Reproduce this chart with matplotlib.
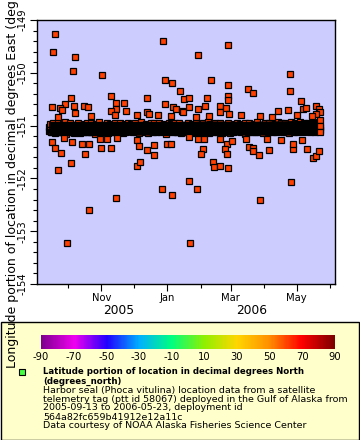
import numpy as np
import pandas as pd
import matplotlib
matplotlib.use("Agg")
import matplotlib.pyplot as plt
import matplotlib.dates as mdates
from matplotlib.colors import LinearSegmentedColormap
from matplotlib.patches import Rectangle

plt.rcParams["axes.unicode_minus"] = False

# Данные: выбросы (день от начала развертывания, долгота)
start = pd.Timestamp("2005-09-13")
end = pd.Timestamp("2006-05-23")

out_day = [
    5.7, 3.8, 24.5, 22.4, 49.5, 105.8, 166.4, 138.3, 107.7, 114.2, 150.4, 166.1, 223.7, 223.7,
    184.7, 189.6, 121.6, 125.3, 130.2, 146.7, 166.1, 166.1, 91.0, 57.6, 20.5, 234.1, 107.7, 69.7,
    62.2, 2.9, 14.9, 10.3, 12.2, 32.6, 36.3, 23.3, 91.0, 130.0, 158.7, 158.7, 164.3, 178.2, 212.8,
    221.8, 235.7, 238.5, 247.8, 250.6, 115.1, 117.9, 123.5,
    62.2, 71.8, 57.9, 124.7, 9.0, 24.2, 39.1, 61.3, 81.7, 92.9, 101.5, 113.8, 138.6, 144.8, 167.1,
    196.4, 207.2, 252.0, 248.1, 244.1, 230.2, 136.5, 148.8,
    2.9, 5.9, 21.4, 31.0, 37.2, 48.3, 57.6, 47.7, 54.2, 81.7, 84.1, 91.3, 97.5, 109.8, 113.5, 14.0,
    63.5, 130.2, 138.9, 143.9, 143.5, 159.0, 165.5, 163.6, 170.4, 183.4, 185.9, 189.6, 204.5, 202.3,
    215.6, 226.4, 226.4, 234.8, 239.4,
    8.4, 20.5, 11.2, 33.5, 16.8, 37.2, 62.2, 81.7, 84.5, 97.5, 104.9, 114.2, 130.0, 130.9, 137.4,
    141.1, 152.2, 153.2, 158.7, 166.1, 165.2, 189.3, 194.9, 195.8, 224.6, 245.0, 247.8, 250.6,
    252.0, 252.0, 252.0,
]
out_lon = [
    -149.26, -149.60, -149.71, -149.96, -150.05, -149.39, -149.47, -149.66, -150.13, -150.19, -150.13, -150.24, -150.02, -150.34,
    -150.30, -150.38, -150.34, -150.49, -150.47, -150.47, -150.43, -150.51, -150.47, -150.43, -150.47, -150.53, -150.59, -150.57,
    -150.57, -150.64, -150.59, -150.66, -150.70, -150.62, -150.64, -150.62, -150.74, -150.64, -150.62, -150.74, -150.66, -150.79, -150.72,
    -150.70, -150.69, -150.66, -150.62, -150.68, -150.64, -150.68, -150.72,
    -150.69, -150.72, -150.73, -150.74, -150.83, -150.76, -150.82, -150.79, -150.79, -150.78, -150.80, -150.81, -150.69, -150.62, -150.78,
    -150.82, -150.83, -150.75, -150.78, -150.81, -150.80, -150.83, -150.82,
    -151.32, -151.42, -151.32, -151.35, -151.34, -151.42, -151.42, -151.25, -151.25, -151.28, -151.39, -151.46, -151.36, -151.35, -151.34, -151.24,
    -151.24, -151.21, -151.26, -151.26, -151.44, -151.26, -151.34, -151.44, -151.30, -151.26, -151.41, -151.43, -151.46, -151.26,
    -151.27, -151.44, -151.34, -151.27, -151.45,
    -151.85, -151.70, -151.51, -151.53, -153.22, -152.59, -152.38, -151.76, -151.68, -151.55, -152.21, -152.31, -152.04, -153.22, -152.21,
    -151.53, -151.68, -151.78, -151.76, -151.80, -151.53, -151.49, -151.55, -152.40, -152.06, -151.61, -151.57, -151.49,
    -150.89, -151.01, -151.12,
]

# Плотная полоса основных наблюдений (долгота)
band_lon = [
    -151.02, -151.11, -150.97, -151.08, -151.13, -151.00, -151.06, -150.96, -151.10, -151.04, -151.14, -150.99, -151.07, -151.12, -151.01, -150.95, -151.09, -151.05, -151.13, -150.98, -151.03, -151.11,
    -151.06, -150.97, -151.12, -151.02, -151.09, -150.94, -151.15, -151.04, -150.99, -151.10, -151.07, -151.01, -151.13, -150.96, -151.08, -151.03, -151.11, -150.98, -151.05, -151.14, -151.00, -151.09,
    -150.98, -151.12, -151.03, -151.07, -150.96, -151.10, -151.01, -151.14, -151.05, -150.99, -151.09, -151.02, -151.13, -150.97, -151.06, -151.11, -151.00, -151.08, -150.95, -151.12, -151.04, -151.10,
    -151.09, -151.01, -150.96, -151.13, -151.04, -151.07, -150.99, -151.11, -151.02, -151.15, -150.97, -151.06, -151.10, -151.00, -151.12, -151.03, -150.94, -151.08, -151.05, -150.98, -151.13, -151.02,
    -151.04, -151.10, -150.98, -151.06, -151.12, -151.00, -151.09, -150.95, -151.14, -151.03, -151.07, -150.97, -151.11, -151.01, -151.08, -150.99, -151.13, -151.05, -151.02, -151.10, -150.96, -151.07,
    -150.99, -151.08, -151.13, -151.01, -151.05, -150.96, -151.11, -151.03, -151.09, -150.98, -151.14, -151.04, -151.00, -151.12, -150.97, -151.07, -151.10, -151.02, -151.06, -150.95, -151.11, -151.03,
    -151.07, -150.97, -151.10, -151.03, -150.99, -151.13, -151.01, -151.08, -150.96, -151.12, -151.05, -150.98, -151.09, -151.02, -151.14, -151.00, -151.06, -150.94, -151.11, -151.04, -151.08, -150.99,
    -151.01, -151.12, -151.05, -150.97, -151.09, -151.03, -151.14, -150.98, -151.07, -151.00, -151.11, -150.95, -151.06, -151.10, -151.02, -151.13, -150.96, -151.08, -151.04, -151.12, -150.99, -151.06,
    -151.10, -151.02, -150.96, -151.08, -151.04, -151.13, -150.99, -151.06, -151.11, -151.01, -150.97, -151.09, -151.03, -151.15, -150.98, -151.05, -151.12, -151.00, -151.07, -150.95, -151.10, -151.04,
    -150.97, -151.09, -151.03, -151.12, -151.00, -151.07, -150.95, -151.11, -151.05, -150.98, -151.13, -151.02, -151.08, -150.96, -151.10, -151.04, -151.14, -150.99, -151.06, -151.01, -151.12, -151.03,
    -151.05, -150.98, -151.11, -151.02, -151.08, -150.96, -151.13, -151.04, -151.00, -151.10, -151.06, -150.97, -151.12, -151.03, -151.09, -150.99, -151.14, -151.01, -151.07, -150.95, -151.11, -151.04,
    -151.02, -151.13, -150.99, -151.07, -151.11, -151.00, -151.05, -150.96, -151.09, -151.03, -151.12, -150.98, -151.06, -151.10, -151.01, -150.94, -151.08, -151.04, -151.14, -150.97, -151.02, -151.11,
    -151.08, -150.97, -151.12, -151.01, -151.06, -150.95, -151.10, -151.04, -150.99, -151.13, -151.07, -151.02, -151.11, -150.96, -151.09, -151.03, -151.14, -150.98, -151.05, -151.12, -151.00, -151.07,
    -150.99, -151.11, -151.04, -151.08, -150.96, -151.12, -151.02, -151.14, -151.06, -150.98, -151.10, -151.01, -151.13, -150.97, -151.05, -151.09, -151.00, -151.07, -150.95, -151.11, -151.03, -151.10,
    -151.06, -151.01, -150.97, -151.12, -151.03, -151.08, -150.98, -151.10, -151.02, -151.15, -150.96, -151.07, -151.11, -151.00, -151.13, -151.04, -150.95, -151.09, -151.05, -150.99, -151.12, -151.03,
    -151.03, -151.10, -150.97, -151.07, -151.13, -151.00, -151.08, -150.94, -151.12, -151.04, -151.06, -150.98, -151.11, -151.02, -151.09, -150.99, -151.14, -151.05, -151.01, -151.10, -150.96, -151.08,
    -150.98, -151.09, -151.12, -151.02, -151.05, -150.95, -151.10, -151.04, -151.08, -150.99, -151.13, -151.03, -151.01, -151.11, -150.97, -151.06, -151.12, -151.02, -151.07, -150.94, -151.10, -151.04,
    -151.07, -150.96, -151.11, -151.03, -150.99, -151.12, -151.02, -151.08, -150.95, -151.13, -151.05, -150.98, -151.10, -151.01, -151.14, -151.00, -151.07, -150.93, -151.11, -151.03, -151.09, -150.98,
    -151.00, -151.12, -151.04, -150.96, -151.09, -151.02, -151.13, -150.97, -151.06, -151.01, -151.11, -150.94, -151.07, -151.10, -151.02, -151.12, -150.95, -151.08, -151.03, -151.11, -150.98, -151.05,
    -151.09, -151.01, -150.95, -151.08, -151.03, -151.12, -150.98, -151.06, -151.10, -151.00, -150.96, -151.08, -151.02, -151.13, -150.97, -151.04, -151.11, -150.99, -151.06, -150.94, -151.09, -151.03,
]

# Ядро полосы, где маркеры сливаются в сплошной чёрный цвет (день, долгота)
core_day = [0, 30, 60, 90, 120, 150, 180, 210, 240, 252]
core_top = [-150.92, -150.92, -150.92, -150.92, -150.92, -150.91, -150.92, -150.91, -150.90, -150.90]
core_bot = [-151.19, -151.19, -151.19, -151.18, -151.19, -151.19, -151.18, -151.18, -151.18, -151.18]

cbar_ticks = [-90, -70, -50, -30, -10, 10, 30, 50, 70, 90]
cbar_colors = ["#800090", "#f000f0", "#2000ff", "#00b0ff", "#00ff80",
               "#90f000", "#ffd700", "#ff9000", "#ff0000", "#800000"]

legend_title = ["Latitude portion of location in decimal degrees North", "(degrees_north)"]
legend_lines = [
    "Harbor seal (Phoca vitulina) location data from a satellite",
    "telemetry tag (ptt id 58067) deployed in the Gulf of Alaska from",
    "2005-09-13 to 2006-05-23, deployment id",
    "564a82fc659b41912e12a11c",
    "Data courtesy of NOAA Alaska Fisheries Science Center",
]

band_t = pd.date_range(start, end, periods=len(band_lon))
out_t = start + pd.to_timedelta(out_day, unit="D")
core_t = start + pd.to_timedelta(core_day, unit="D")

W, H = 360, 440
fig = plt.figure(figsize=(W / 100, H / 100), dpi=100)

ax = fig.add_axes([37 / W, 1 - 284 / H, (335 - 37) / W, (284 - 20) / H])
ax.set_facecolor("#ccccff")
mk = dict(ls="none", ms=3.8, mfc="#ff4000", mec="black", mew=0.9, antialiased=False)
ax.plot(band_t, band_lon, "s", zorder=2, **mk)
ax.fill_between(core_t, core_top, core_bot, color="black", lw=0, zorder=2.5)
ax.plot(out_t, out_lon, "s", zorder=3, **mk)

ax.set_xlim(pd.Timestamp("2005-09-02 05:00"), pd.Timestamp("2006-06-05 17:00"))
ax.set_ylim(-154, -149)
ax.set_yticks([-154, -153, -152, -151, -150, -149])
ax.set_yticks(np.arange(-154, -148.9, 0.2), minor=True)
ax.xaxis.set_major_locator(mdates.MonthLocator(bymonth=[11, 1, 3, 5]))
ax.xaxis.set_minor_locator(mdates.MonthLocator(bymonth=[10, 12, 2, 4, 6]))
ax.xaxis.set_major_formatter(mdates.DateFormatter("%b"))
ax.tick_params(which="major", length=5, width=0.8, labelsize=7.2, pad=1.5)
ax.tick_params(which="minor", length=3, width=0.8)
ax.tick_params(axis="y", labelrotation=90)
for lab in ax.get_yticklabels():
    lab.set_va("center")
for s in ax.spines.values():
    s.set_linewidth(1.0)
    s.set_zorder(4)

fig.text(119 / W, 1 - 311 / H, "2005", ha="center", va="center", fontsize=8.8)
fig.text(252 / W, 1 - 311 / H, "2006", ha="center", va="center", fontsize=8.8)

# Рамка легенды
fig.patches.append(Rectangle((0.5 / W, 0.5 / H), (W - 1.5) / W, (H - 322.5) / H,
                             transform=fig.transFigure, facecolor="#ffffcc",
                             edgecolor="black", lw=1.0, zorder=-1))

# Цветовая шкала
cmap = LinearSegmentedColormap.from_list("rb", cbar_colors)
cax = fig.add_axes([41 / W, 1 - 349 / H, (335 - 41) / W, 14 / H])
grad = np.linspace(-90, 90, 300).reshape(1, -1)
cax.imshow(grad, aspect="auto", cmap=cmap, extent=[-90, 90, 0, 1])
cax.set_xlim(-90, 90)
cax.set_yticks([])
cax.set_xticks(cbar_ticks)
cax.tick_params(length=0, labelsize=7.2, pad=2)
for s in cax.spines.values():
    s.set_visible(False)

# Маркер и тексты легенды
leg_ax = fig.add_axes([0, 0, 1, 1], facecolor="none")
leg_ax.set_xlim(0, W)
leg_ax.set_ylim(H, 0)
leg_ax.axis("off")
leg_ax.plot([22], [372], "s", ms=4.0, mfc="#44ff44", mec="black", mew=0.8)
y = 372
for line in legend_title:
    leg_ax.text(43, y, line, ha="left", va="center", fontsize=6.2, fontweight="bold")
    y += 9
for line in legend_lines:
    leg_ax.text(43, y, line, ha="left", va="center", fontsize=6.8)
    y += 9

fig.text(13 / W, 1 - 368 / H,
         "Longitude portion of location in decimal degrees East (degrees_east)",
         rotation=90, ha="center", va="bottom", fontsize=9)

fig.savefig("out.png", dpi=100)
